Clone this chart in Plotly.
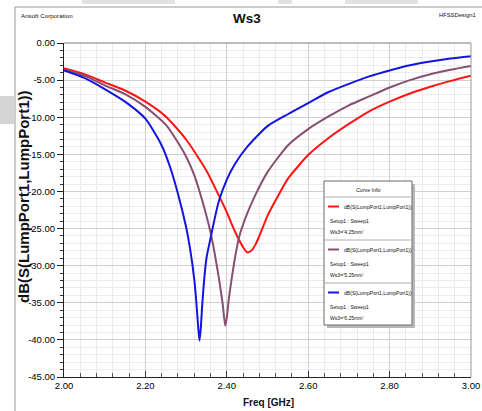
import plotly.graph_objects as go

# ---------------- data ----------------
freq_red = [2.00, 2.05, 2.10, 2.15, 2.20, 2.25, 2.30, 2.35, 2.38, 2.40, 2.42, 2.44, 2.45, 2.46, 2.47,
            2.48, 2.50, 2.52, 2.55, 2.60, 2.65, 2.70, 2.75, 2.80, 2.85, 2.90, 2.95, 3.00]
db_red = [-3.4, -4.2, -5.3, -6.4, -7.9, -9.9, -13.0, -17.2, -20.5, -22.8, -25.4, -27.5, -28.2, -28.0, -27.2,
          -26.0, -23.3, -21.2, -18.3, -15.1, -12.8, -10.9, -9.2, -7.9, -6.8, -5.9, -5.1, -4.4]

freq_pur = [2.00, 2.05, 2.10, 2.15, 2.20, 2.25, 2.28, 2.30, 2.32, 2.34, 2.36, 2.37, 2.38, 2.39, 2.396,
            2.40, 2.405, 2.41, 2.42, 2.43, 2.45, 2.47, 2.50, 2.55, 2.60, 2.65, 2.70, 2.75, 2.80, 2.85,
            2.90, 2.95, 3.00]
db_pur = [-3.55, -4.4, -5.7, -6.9, -8.6, -11.0, -13.4, -15.3, -17.8, -21.3, -25.5, -28.3, -31.5, -35.2, -38.1,
          -37.0, -34.5, -32.5, -29.0, -26.2, -23.0, -20.5, -17.4, -13.8, -11.6, -9.9, -8.4, -7.2, -6.0, -5.0,
          -4.2, -3.6, -3.1]

freq_blu = [2.00, 2.05, 2.10, 2.15, 2.20, 2.24, 2.26, 2.28, 2.30, 2.31, 2.32, 2.325, 2.33, 2.333, 2.336,
            2.34, 2.345, 2.35, 2.36, 2.38, 2.40, 2.42, 2.45, 2.50, 2.55, 2.60, 2.65, 2.70, 2.75, 2.80,
            2.85, 2.90, 2.95, 3.00]
db_blu = [-3.7, -4.7, -6.2, -7.9, -10.2, -13.8, -16.6, -20.3, -24.8, -27.8, -31.8, -34.8, -38.5, -40.1, -38.5,
          -35.0, -31.5, -29.0, -26.3, -21.4, -18.4, -16.3, -14.0, -11.2, -9.6, -8.1, -6.6, -5.5, -4.5, -3.7,
          -3.0, -2.5, -2.1, -1.8]

x_tickvals = [2.0, 2.2, 2.4, 2.6, 2.8, 3.0]
x_ticktext = ["2.00", "2.20", "2.40", "2.60", "2.80", "3.00"]
y_tickvals = [0, -5, -10, -15, -20, -25, -30, -35, -40, -45]
y_ticktext = ["0.00", "-5.00", "-10.00", "-15.00", "-20.00", "-25.00", "-30.00", "-35.00", "-40.00", "-45.00"]

legend_curve = "dB(S(LumpPort1,LumpPort1))"
legend_setup = "Setup1 : Sweep1"
legend_ws = ["Ws3='4.25mm'", "Ws3='5.25mm'", "Ws3='6.25mm'"]
colors = ["#ff1414", "#875070", "#1414e0"]

# ---------------- layout geometry ----------------
W, H = 482, 411
L, R, T, B = 64, 471, 43, 377
PW, PH = R - L, B - T

def px(x):
    return (x - L) / PW

def py(y):
    return (B - y) / PH

SANS = "Liberation Sans, Arial, sans-serif"

fig = go.Figure()
for fx, fy, c, name in zip([freq_red, freq_pur, freq_blu], [db_red, db_pur, db_blu], colors, legend_ws):
    fig.add_trace(go.Scatter(x=fx, y=fy, mode="lines",
                             line=dict(color=c, width=2, shape="spline", smoothing=0.6),
                             name=name, showlegend=False, hoverinfo="skip"))

fig.update_layout(
    width=W, height=H,
    margin=dict(l=L, r=W - R, t=T, b=H - B),
    paper_bgcolor="white", plot_bgcolor="white",
    xaxis=dict(range=[2, 3], tickvals=x_tickvals, ticktext=x_ticktext, automargin=False,
               showgrid=True, gridcolor="#cfcfcf", gridwidth=1,
               ticks="inside", ticklen=6, tickcolor="#333",
               minor=dict(dtick=0.04, showgrid=True, gridcolor="#ececec", ticks="inside",
                          ticklen=4, tickcolor="#555"),
               showline=True, linecolor="#222", linewidth=1,
               tickfont=dict(family=SANS, size=9.5, color="#000"),
               zeroline=False, fixedrange=True),
    yaxis=dict(range=[-45, 0], tickvals=y_tickvals, ticktext=y_ticktext, automargin=False,
               showgrid=True, gridcolor="#cfcfcf", gridwidth=1,
               ticks="outside", ticklen=6, tickcolor="#222",
               minor=dict(dtick=1, showgrid=True, gridcolor="#ececec", ticks="outside",
                          ticklen=3, tickcolor="#333"),
               showline=True, linecolor="#222", linewidth=1,
               tickfont=dict(family=SANS, size=9.5, color="#000"),
               zeroline=False, fixedrange=True),
)

shapes = []
# outer frame artifacts
shapes.append(dict(type="line", xref="paper", yref="paper", x0=px(15), x1=px(15), y0=py(7), y1=py(411),
                   line=dict(color="#9a9a9a", width=1)))
shapes.append(dict(type="line", xref="paper", yref="paper", x0=px(15), x1=px(482), y0=py(7), y1=py(7),
                   line=dict(color="#9a9a9a", width=1)))
for x0, x1 in [(82, 175), (278, 292), (345, 418)]:
    shapes.append(dict(type="rect", xref="paper", yref="paper", x0=px(x0), x1=px(x1), y0=py(4), y1=py(0),
                       fillcolor="#e2e2e2", line=dict(width=0), layer="below"))
shapes.append(dict(type="rect", xref="paper", yref="paper", x0=px(0), x1=px(14), y0=py(124), y1=py(96),
                   fillcolor="#d4d4d4", line=dict(width=0), layer="below"))
# plot border (top/right gray)
shapes.append(dict(type="line", xref="paper", yref="paper", x0=0, x1=1, y0=1, y1=1,
                   line=dict(color="#7a7a7a", width=1)))
shapes.append(dict(type="line", xref="paper", yref="paper", x0=1, x1=1, y0=0, y1=1,
                   line=dict(color="#9a9a9a", width=1)))

# legend box ("Curve Info")
bx0, bx1, by0, by1 = 324, 412, 181, 325
shapes.append(dict(type="rect", xref="paper", yref="paper", x0=px(bx0 + 3), x1=px(bx1 + 3),
                   y0=py(by1 + 3), y1=py(by0 + 3), fillcolor="#b8b8b8", line=dict(width=0)))
shapes.append(dict(type="rect", xref="paper", yref="paper", x0=px(bx0), x1=px(bx1),
                   y0=py(by1), y1=py(by0), fillcolor="white", line=dict(color="#6a6a6a", width=1)))
for sy in [197, 240, 283]:
    shapes.append(dict(type="line", xref="paper", yref="paper", x0=px(bx0), x1=px(bx1), y0=py(sy), y1=py(sy),
                       line=dict(color="#b0b0b0", width=1)))

annotations = []
def txt(text, x, y, size, family=SANS, xanchor="left", color="#111", bold=False, angle=0):
    t = f"<b>{text}</b>" if bold else text
    annotations.append(dict(text=t, x=px(x), y=py(y), xref="paper", yref="paper", showarrow=False,
                            xanchor=xanchor, yanchor="middle", textangle=angle,
                            font=dict(family=family, size=size, color=color)))

txt("Curve Info", 368, 189.5, 5.3, xanchor="center")
entry_y = [206.5, 249.5, 292.5]
for c, ey, ws in zip(colors, entry_y, legend_ws):
    shapes.append(dict(type="line", xref="paper", yref="paper", x0=px(328), x1=px(339), y0=py(ey), y1=py(ey),
                       line=dict(color=c, width=2)))
    txt(legend_curve, 342, ey, 5.1)
    txt(legend_setup, 328, ey + 14, 5.1)
    txt(ws, 328, ey + 25, 5.1)

# header texts
txt("Ansoft Corporation", 19, 15.5, 6.2)
txt("<b>Ws3</b>", 247, 18.5, 13.5, xanchor="center")
txt("HFSSDesign1", 478, 15.5, 5.8, xanchor="right")
# axis titles
txt("Freq [GHz]", 268, 402, 10, xanchor="center", bold=True)
annotations.append(dict(text="<b>dB(S(LumpPort1,LumpPort1))</b>", x=px(23), y=py(197), xref="paper", yref="paper",
                        showarrow=False, xanchor="center", yanchor="middle", textangle=-90,
                        font=dict(family=SANS, size=15, color="#111")))

fig.update_layout(shapes=shapes, annotations=annotations)
fig.write_html("out.html", config={"displayModeBar": False},
               post_script="document.body.style.margin='0';document.body.style.overflow='hidden';")
